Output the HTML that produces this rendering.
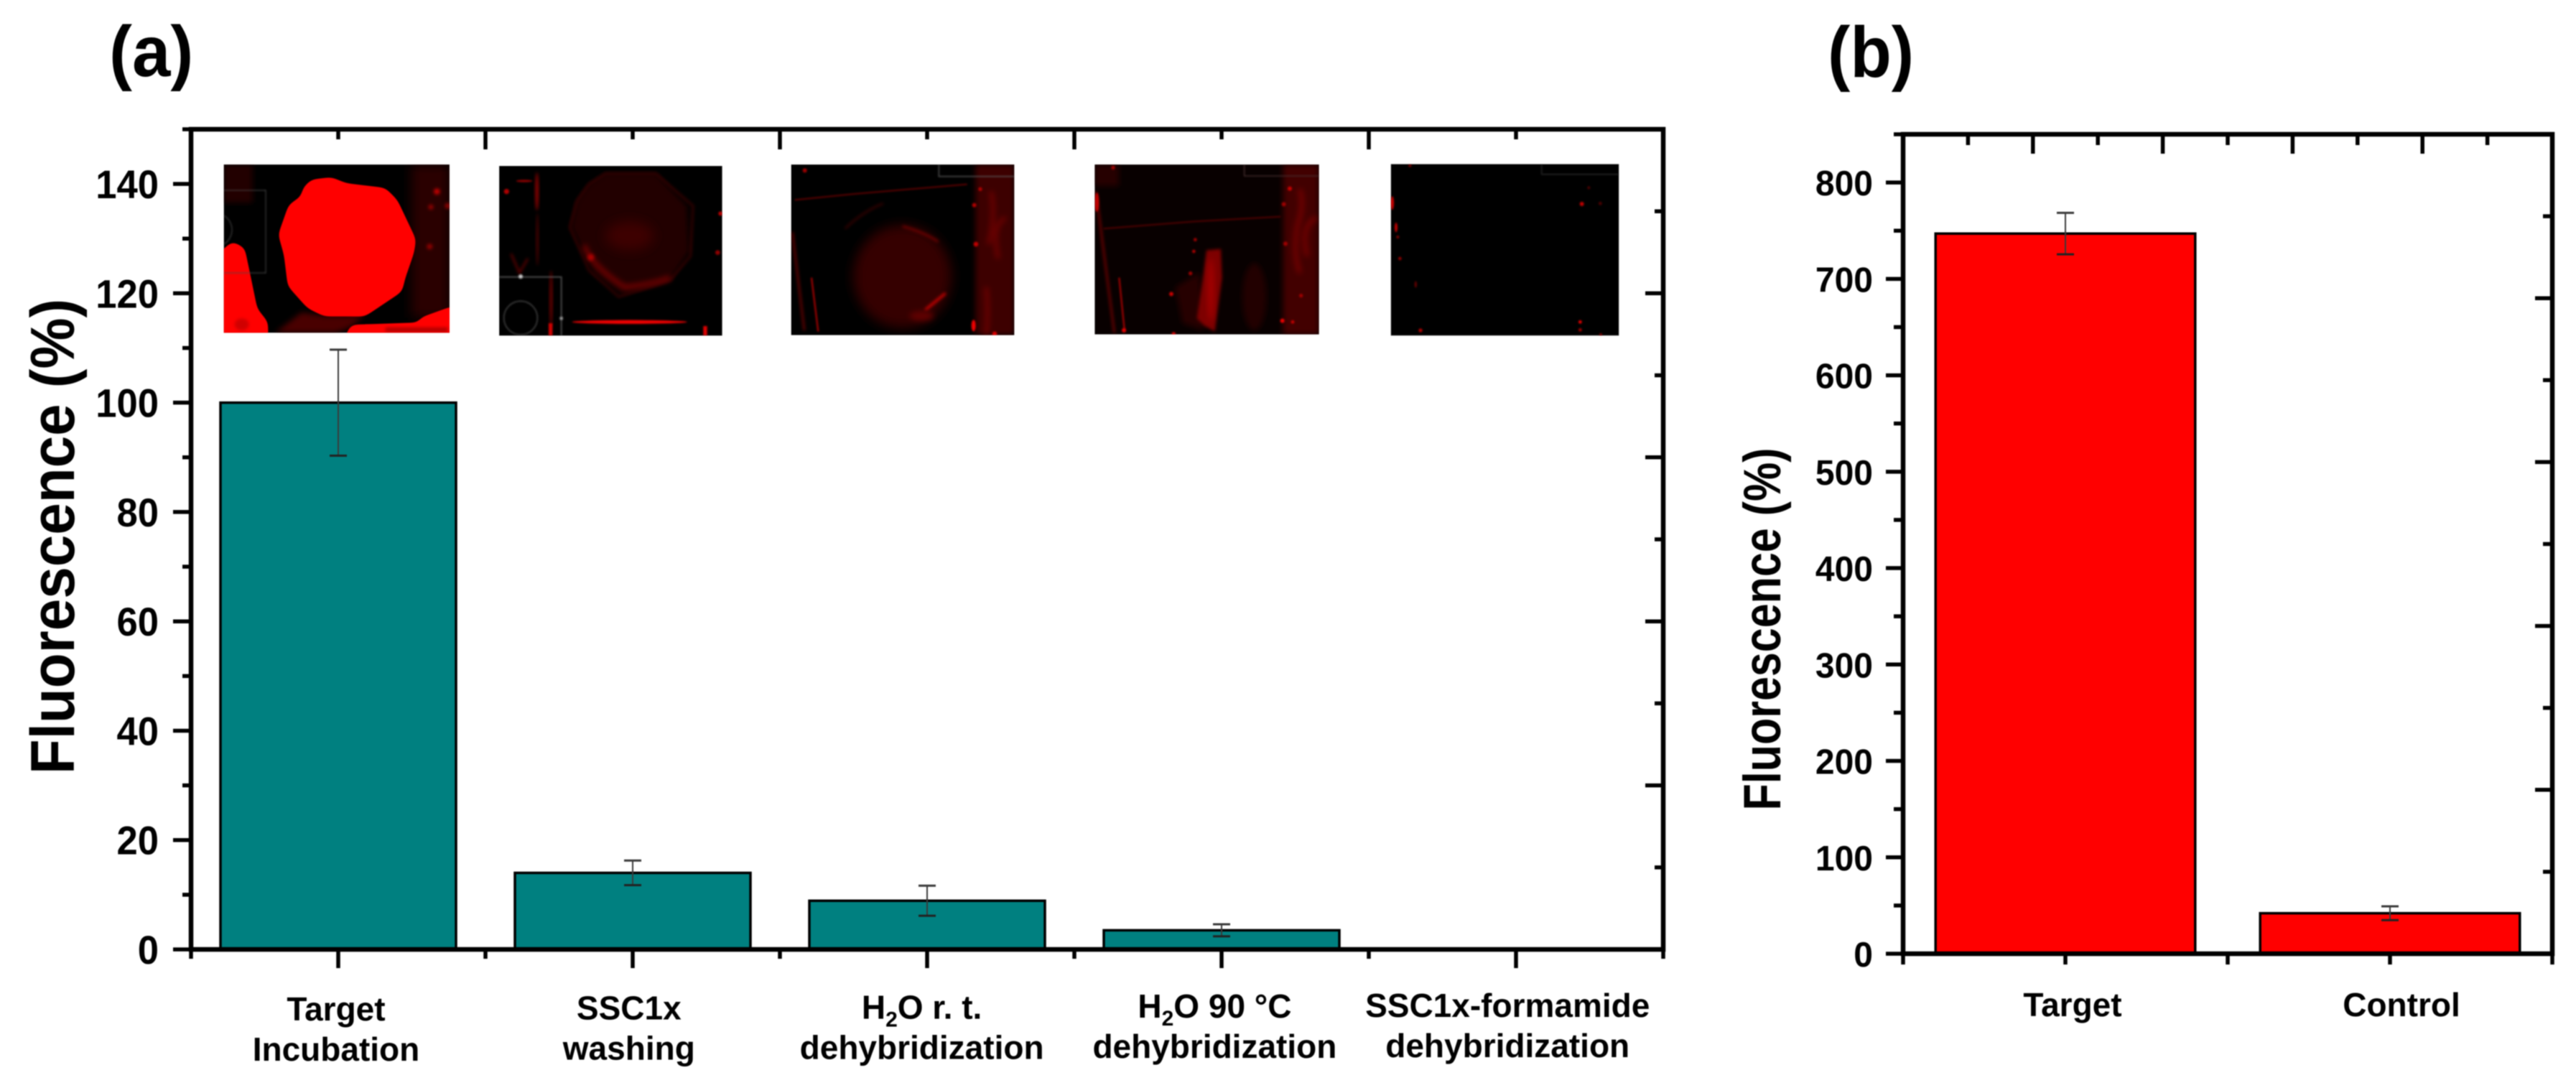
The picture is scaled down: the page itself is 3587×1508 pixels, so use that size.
<!DOCTYPE html>
<html lang="en">
<head>
<meta charset="utf-8">
<title>Fluorescence bar charts</title>
<style>
html,body{margin:0;padding:0;background:#fff;}
body{width:3587px;height:1508px;overflow:hidden;}
svg{display:block;filter:blur(.9px);}
text{font-family:"Liberation Sans",Arial,sans-serif;font-weight:bold;fill:#000;}
</style>
</head>
<body>
<svg id="figure" xmlns="http://www.w3.org/2000/svg" width="3587" height="1508" viewBox="0 0 3587 1508">
<defs>
<filter id="b2" x="-60%" y="-60%" width="220%" height="220%"><feGaussianBlur stdDeviation="3.5"/></filter>
<filter id="b5" x="-50%" y="-50%" width="200%" height="200%"><feGaussianBlur stdDeviation="6"/></filter>
<filter id="b12" x="-50%" y="-50%" width="200%" height="200%"><feGaussianBlur stdDeviation="12"/></filter>
<filter id="b24" x="-50%" y="-50%" width="200%" height="200%"><feGaussianBlur stdDeviation="24"/></filter>
<filter id="smooth" x="-20%" y="-20%" width="140%" height="140%"><feGaussianBlur stdDeviation="16"/><feComponentTransfer><feFuncA type="linear" slope="9" intercept="-4"/></feComponentTransfer></filter>
<clipPath id="c1"><rect x="95" y="87" width="943" height="703"/></clipPath>
<clipPath id="c2"><rect x="45" y="93" width="932" height="709"/></clipPath>
<clipPath id="c3"><rect x="65" y="87" width="932" height="713"/></clipPath>
<clipPath id="c4"><rect x="103" y="87" width="937" height="710"/></clipPath>
<clipPath id="c5"><rect x="110" y="85" width="953" height="717"/></clipPath>
</defs>
<rect width="3587" height="1508" fill="#fff"/>

<text transform="translate(152,106) scale(1,1.04)" font-size="96">(a)</text>
<text transform="translate(2545,107) scale(.98,1.04)" font-size="96">(b)</text>

<g id="panelA"></g>
<g id="panelB"></g>

<g transform="translate(280,200) scale(.33333)" clip-path="url(#c1)">
<rect x="95" y="87" width="943" height="703" fill="#000" stroke="#777" stroke-width="2"/>
<rect x="880" y="87" width="158" height="640" fill="#2c0000" filter="url(#b24)"/>
<rect x="95" y="87" width="120" height="160" fill="#200000" filter="url(#b12)"/>
<polygon points="310,790 420,705 520,720 680,720 620,770 560,790" fill="#4a0000" filter="url(#b12)"/>
<g filter="url(#smooth)" fill="#ff0000">
<polygon points="460,150 545,140 605,165 770,185 820,235 898,400 890,455 852,565 840,618 685,722 515,722 445,688 362,595 346,465 322,380 366,255 418,220 425,185"/>
<polygon points="60,470 130,408 182,435 200,520 235,690 280,745 280,840 60,840"/>
<polygon points="585,840 625,757 910,747 915,727 1060,675 1090,840"/>
</g>
<rect x="770" y="768" width="260" height="18" fill="#b00000" filter="url(#b5)"/>
<ellipse cx="170" cy="755" rx="30" ry="25" fill="#d00000" filter="url(#b5)"/>
<circle cx="985" cy="200" r="13" fill="#c00000" filter="url(#b5)"/>
<circle cx="960" cy="265" r="11" fill="#900000" filter="url(#b5)"/>
<circle cx="955" cy="430" r="12" fill="#900000" filter="url(#b5)"/>
<circle cx="1030" cy="260" r="12" fill="#900000" filter="url(#b5)"/>
<path d="M95 195H270V540H95M95 300A70 70 0 0 1 95 420" fill="none" stroke="#4e4e4e" stroke-width="3" filter="url(#b2)"/>
</g>

<g transform="translate(680,200) scale(.33333)" clip-path="url(#c2)">
<rect x="45" y="93" width="932" height="709" fill="#000" stroke="#777" stroke-width="2"/>
<polygon fill="#220000" filter="url(#b12)" points="420,170 490,125 700,125 830,260 840,450 760,570 560,630 440,540 345,350 370,240"/>
<polygon fill="none" stroke="#420000" stroke-width="7" stroke-linejoin="round" filter="url(#b5)" points="420,170 490,125 700,125 855,260 845,470 760,570 545,640 420,530 340,350 370,240"/>
<path d="M400 425 Q430 510 570 600 Q680 590 760 560" fill="none" stroke="#7a0000" stroke-width="18" filter="url(#b12)"/>
<circle cx="428" cy="475" r="14" fill="#b00000" filter="url(#b5)"/>
<ellipse cx="590" cy="385" rx="100" ry="60" fill="#3c0000" filter="url(#b24)"/>
<ellipse cx="590" cy="745" rx="240" ry="8" fill="#f00000" filter="url(#b2)"/>
<ellipse cx="203" cy="200" rx="7" ry="80" fill="#900000" filter="url(#b5)"/>
<ellipse cx="205" cy="400" rx="5" ry="110" fill="#500000" filter="url(#b5)"/>
<ellipse cx="150" cy="156" rx="34" ry="5" fill="#900000" filter="url(#b2)"/>
<circle cx="76" cy="200" r="11" fill="#b00000" filter="url(#b2)"/>
<ellipse cx="262" cy="650" rx="6" ry="120" fill="#700000" filter="url(#b5)"/>
<rect x="252" y="750" width="16" height="52" fill="#d00000" filter="url(#b2)"/>
<rect x="898" y="762" width="16" height="40" fill="#e00000" filter="url(#b2)"/>
<circle cx="970" cy="292" r="9" fill="#c00000" filter="url(#b2)"/>
<circle cx="958" cy="455" r="10" fill="#900000" filter="url(#b2)"/>
<path d="M95 460 L130 540 L165 480" fill="none" stroke="#600000" stroke-width="8" filter="url(#b5)"/>
<path d="M45 557H305V802" fill="none" stroke="#6a6a6a" stroke-width="4" filter="url(#b2)"/>
<circle cx="135" cy="555" r="9" fill="#c8c8c8" filter="url(#b2)"/>
<circle cx="305" cy="730" r="7" fill="#999" filter="url(#b2)"/>
<circle cx="135" cy="728" r="70" fill="none" stroke="#505050" stroke-width="4" filter="url(#b2)"/>
</g>

<g transform="translate(1080,200) scale(.33333)" clip-path="url(#c3)">
<rect x="65" y="87" width="932" height="713" fill="#000" stroke="#777" stroke-width="2"/>
<rect x="835" y="87" width="162" height="713" fill="#3e0000" filter="url(#b12)"/>
<path d="M900 200Q920 300 890 420M960 310Q900 340 930 480M880 600Q890 700 880 800" fill="none" stroke="#780000" stroke-width="14" filter="url(#b12)"/>
<ellipse cx="530" cy="555" rx="205" ry="215" fill="#360000" filter="url(#b24)"/>
<path d="M530 345Q620 370 680 410" fill="none" stroke="#8a0000" stroke-width="7" filter="url(#b5)"/>
<path d="M625 695L710 625" stroke="#e80000" stroke-width="9" filter="url(#b5)"/>
<ellipse cx="610" cy="720" rx="50" ry="20" fill="#600000" filter="url(#b12)"/>
<path d="M80 235L330 210L800 170" fill="none" stroke="#5e0000" stroke-width="6" filter="url(#b2)"/>
<path d="M290 355Q370 280 450 250" fill="none" stroke="#4a0000" stroke-width="6" filter="url(#b5)"/>
<path d="M70 370L120 780" stroke="#800000" stroke-width="7" filter="url(#b5)"/>
<path d="M150 560L178 785" stroke="#a00000" stroke-width="7" filter="url(#b2)"/>
<circle cx="122" cy="112" r="9" fill="#a00000" filter="url(#b2)"/>
<circle cx="855" cy="190" r="8" fill="#b00000" filter="url(#b2)"/>
<circle cx="830" cy="257" r="9" fill="#b00000" filter="url(#b2)"/>
<circle cx="837" cy="420" r="10" fill="#c00000" filter="url(#b2)"/>
<ellipse cx="827" cy="760" rx="9" ry="24" fill="#f00000" filter="url(#b2)"/>
<circle cx="915" cy="795" r="10" fill="#e00000" filter="url(#b2)"/>
<path d="M682 87V137H997" fill="none" stroke="#5a5a5a" stroke-width="4" filter="url(#b2)"/>
</g>

<g transform="translate(1490,200) scale(.33333)" clip-path="url(#c4)">
<rect x="103" y="87" width="937" height="710" fill="#080000" stroke="#777" stroke-width="2"/>
<rect x="890" y="87" width="150" height="710" fill="#420000" filter="url(#b12)"/>
<rect x="103" y="87" width="100" height="90" fill="#280000" filter="url(#b12)"/>
<path d="M960 190Q980 260 950 340Q930 460 960 540M1030 310Q960 340 990 470" fill="none" stroke="#7a0000" stroke-width="16" filter="url(#b12)"/>
<polygon fill="#280000" filter="url(#b12)" points="440,600 540,540 560,780 470,750"/>
<polygon fill="#7e0000" filter="url(#b5)" points="570,445 630,440 635,560 605,785 560,760 530,730 555,560"/>
<ellipse cx="588" cy="610" rx="12" ry="130" fill="#a80000" filter="url(#b12)"/>
<ellipse cx="770" cy="640" rx="50" ry="140" fill="#220000" filter="url(#b12)"/>
<path d="M140 355L520 325L880 305" fill="none" stroke="#520000" stroke-width="6" filter="url(#b2)"/>
<path d="M108 200L185 790" stroke="#780000" stroke-width="8" filter="url(#b5)"/>
<path d="M205 560L228 785" stroke="#a00000" stroke-width="7" filter="url(#b2)"/>
<ellipse cx="112" cy="245" rx="9" ry="40" fill="#c00000" filter="url(#b2)"/>
<circle cx="180" cy="100" r="8" fill="#a00000" filter="url(#b2)"/>
<circle cx="523" cy="401" r="7" fill="#a00000" filter="url(#b2)"/>
<circle cx="517" cy="450" r="7" fill="#b00000" filter="url(#b2)"/>
<circle cx="503" cy="542" r="8" fill="#a00000" filter="url(#b2)"/>
<circle cx="423" cy="628" r="9" fill="#c80000" filter="url(#b2)"/>
<circle cx="918" cy="188" r="9" fill="#c80000" filter="url(#b2)"/>
<circle cx="893" cy="253" r="9" fill="#a00000" filter="url(#b2)"/>
<circle cx="900" cy="418" r="9" fill="#a00000" filter="url(#b2)"/>
<circle cx="965" cy="635" r="8" fill="#a00000" filter="url(#b2)"/>
<circle cx="887" cy="740" r="9" fill="#f00000" filter="url(#b2)"/>
<circle cx="930" cy="745" r="7" fill="#c80000" filter="url(#b2)"/>
<circle cx="433" cy="795" r="8" fill="#e00000" filter="url(#b2)"/>
<circle cx="225" cy="780" r="9" fill="#e00000" filter="url(#b2)"/>
<path d="M728 87V135H1040" fill="none" stroke="#4a3030" stroke-width="4" filter="url(#b2)"/>
</g>

<g transform="translate(1900,200) scale(.33333)" clip-path="url(#c5)">
<rect x="110" y="85" width="953" height="717" fill="#000" stroke="#888" stroke-width="3"/>
<ellipse cx="116" cy="248" rx="7" ry="28" fill="#d00000" filter="url(#b2)"/>
<ellipse cx="132" cy="350" rx="6" ry="20" fill="#c00000" filter="url(#b2)"/>
<circle cx="139" cy="390" r="6" fill="#800000" filter="url(#b2)"/>
<circle cx="148" cy="480" r="7" fill="#900000" filter="url(#b2)"/>
<ellipse cx="214" cy="588" rx="5" ry="14" fill="#600000" filter="url(#b2)"/>
<circle cx="234" cy="780" r="8" fill="#b00000" filter="url(#b2)"/>
<circle cx="190" cy="92" r="6" fill="#800000" filter="url(#b2)"/>
<circle cx="908" cy="252" r="9" fill="#c00000" filter="url(#b2)"/>
<circle cx="985" cy="250" r="7" fill="#500000" filter="url(#b2)"/>
<circle cx="937" cy="184" r="6" fill="#500000" filter="url(#b2)"/>
<circle cx="901" cy="745" r="7" fill="#f00000" filter="url(#b2)"/>
<circle cx="901" cy="778" r="7" fill="#a00000" filter="url(#b2)"/>
<circle cx="987" cy="798" r="6" fill="#800000" filter="url(#b2)"/>
<path d="M740 87V128H1063" fill="none" stroke="#2c2c2c" stroke-width="4" filter="url(#b2)"/>
</g>
</svg>

<script>
// Panel (a) data
const categoriesA = ["Target|Incubation", "SSC1x|washing", "H_2O r. t.|dehybridization", "H_2O 90 °C|dehybridization", "SSC1x-formamide|dehybridization"];
const valuesA = [100, 14, 8.9, 3.5, 0];
const errorsA = [9.7, 2.25, 2.75, 1.1, 0];
const yTickLabelsA = [0, 20, 40, 60, 80, 100, 120, 140];
const yMinorTicksA = [10, 30, 50, 70, 90, 110, 130, 150];
const yDomainA = [0, 150];

// Panel (b) data
const categoriesB = ["Target", "Control"];
const valuesB = [747, 42];
const errorsB = [21.5, 7.2];
const yTickLabelsB = [0, 100, 200, 300, 400, 500, 600, 700, 800];
const yMinorTicksB = [50, 150, 250, 350, 450, 550, 650, 750, 850];
const yDomainB = [0, 850];

const NS = "http://www.w3.org/2000/svg";

function add(parent, tag, attrs, txt) {
  const node = document.createElementNS(NS, tag);
  for (const k in attrs) node.setAttribute(k, attrs[k]);
  if (txt !== undefined) node.textContent = txt;
  parent.appendChild(node);
  return node;
}

function drawPanel(parent, cfg) {
  const yScale = v => cfg.bottom - (v - cfg.domain[0]) / (cfg.domain[1] - cfg.domain[0]) * (cfg.bottom - cfg.top);
  const width = cfg.right - cfg.left;
  const band = width / cfg.categories.length;
  const xScale = i => cfg.left + (i + 0.5) * band;
  let el;

  // bars
  cfg.values.forEach((v, i) => {
    el = add(parent, "rect", {x: xScale(i) - band * 0.4, y: yScale(v), width: band * 0.8, height: cfg.bottom - yScale(v), fill: cfg.color, stroke: "#000", "stroke-width": 3.5});
    
    
  });

  // error bars
  cfg.values.forEach((v, i) => {
    const e = cfg.errors[i];
    if (!e) return;
    const cx = xScale(i);
    el = add(parent, "line", {x1: cx, x2: cx, y1: yScale(v + e), y2: yScale(v - e), stroke: "#3a3a3a", "stroke-width": 2});
    
    
    el = add(parent, "line", {x1: cx - 12, x2: cx + 12, y1: yScale(v + e), y2: yScale(v + e), stroke: "#3a3a3a", "stroke-width": 3});
    
    
    el = add(parent, "line", {x1: cx - 12, x2: cx + 12, y1: yScale(v - e), y2: yScale(v - e), stroke: "#222", "stroke-width": 3});
    
    
  });

  // frame
  el = add(parent, "rect", {x: cfg.left, y: cfg.top, width: width, height: cfg.bottom - cfg.top, fill: "none", stroke: "#000", "stroke-width": 6.5});
  
  

  const tick = (x1, y1, x2, y2, name) => {
    const t = add(parent, "line", {x1: x1, y1: y1, x2: x2, y2: y2, stroke: "#000", "stroke-width": 5.5});
    
    
  };

  // left axis
  cfg.yTicks.forEach(v => {
    tick(cfg.left - cfg.majorLen, yScale(v), cfg.left, yScale(v), 'y-tick-major');
    el = add(parent, "text", {transform: `translate(${cfg.left - cfg.labelGap},${yScale(v) + cfg.labelDy}) scale(${cfg.labelSx},1)`, "font-size": cfg.labelSize, "text-anchor": "end"}, String(v));
    
    
  });
  cfg.yMinor.forEach(v => tick(cfg.left - cfg.minorLen, yScale(v), cfg.left, yScale(v), 'y-tick-minor'));

  // right axis and top axis: ten half-steps across the frame
  for (let k = 0; k <= 10; k++) {
    const y = cfg.top + (cfg.bottom - cfg.top) * k / 10;
    const x = cfg.left + width * k / 10;
    const major = k % 2 === 0;
    tick(cfg.right - (major ? cfg.majorLen : cfg.minorLen), y, cfg.right, y, major ? 'right-tick-major' : 'right-tick-minor');
    tick(x, cfg.top, x, cfg.top + (major ? cfg.majorLen + 3 : cfg.minorLen + 2), major ? 'top-tick-major' : 'top-tick-minor');
  }

  // bottom axis
  cfg.categories.forEach((c, i) => tick(xScale(i), cfg.bottom, xScale(i), cfg.bottom + cfg.bottomMajor, 'x-tick-major'));
  for (let i = 0; i <= cfg.categories.length; i++) {
    tick(cfg.left + i * band, cfg.bottom, cfg.left + i * band, cfg.bottom + cfg.bottomMinor, 'x-tick-minor');
  }

  // category labels
  cfg.categories.forEach((c, i) => {
    c.split("|").forEach((line, li) => {
      el = add(parent, "text", {x: xScale(i) + cfg.catShift(i), y: cfg.catBase(i) + li * 56, "font-size": 46, "text-anchor": "middle"});
      
      
      const parts = line.split("_");
      if (parts.length === 2) {
        add(el, "tspan", {}, parts[0]);
        add(el, "tspan", {dy: 11, "font-size": 30}, parts[1][0]);
        add(el, "tspan", {dy: -11}, parts[1].slice(1));
      } else {
        el.textContent = line;
      }
    });
  });

  // axis title
  el = add(parent, "text", {transform: `translate(${cfg.titleX},${cfg.titleY}) rotate(-90) scale(1,${cfg.titleSy})`, "font-size": cfg.titleSize, "text-anchor": "middle"}, "Fluorescence (%)");
  
  
}

drawPanel(document.getElementById("panelA"), {
  categories: categoriesA, values: valuesA, errors: errorsA, yTicks: yTickLabelsA, yMinor: yMinorTicksA, domain: yDomainA,
  left: 266, right: 2316, top: 180, bottom: 1322, color: "#008080",
  majorLen: 25, minorLen: 12, bottomMajor: 26, bottomMinor: 13,
  labelGap: 45, labelDy: 20, labelSize: 56, labelSx: 0.94,
  catShift: i => -3 - 2.2 * i, catBase: i => 1421 - 1.3 * i,
  titleX: 103, titleY: 747, titleSize: 80, titleSy: 1.08
});

drawPanel(document.getElementById("panelB"), {
  categories: categoriesB, values: valuesB, errors: errorsB, yTicks: yTickLabelsB, yMinor: yMinorTicksB, domain: yDomainB,
  left: 2650, right: 3554, top: 187, bottom: 1328, color: "#ff0000",
  majorLen: 24, minorLen: 13, bottomMajor: 15, bottomMinor: 15,
  labelGap: 42, labelDy: 18, labelSize: 49, labelSx: 0.98,
  catShift: i => 10 + 6 * i, catBase: () => 1415,
  titleX: 2479, titleY: 876, titleSize: 61, titleSy: 1.2
});
</script>
</body>
</html>
